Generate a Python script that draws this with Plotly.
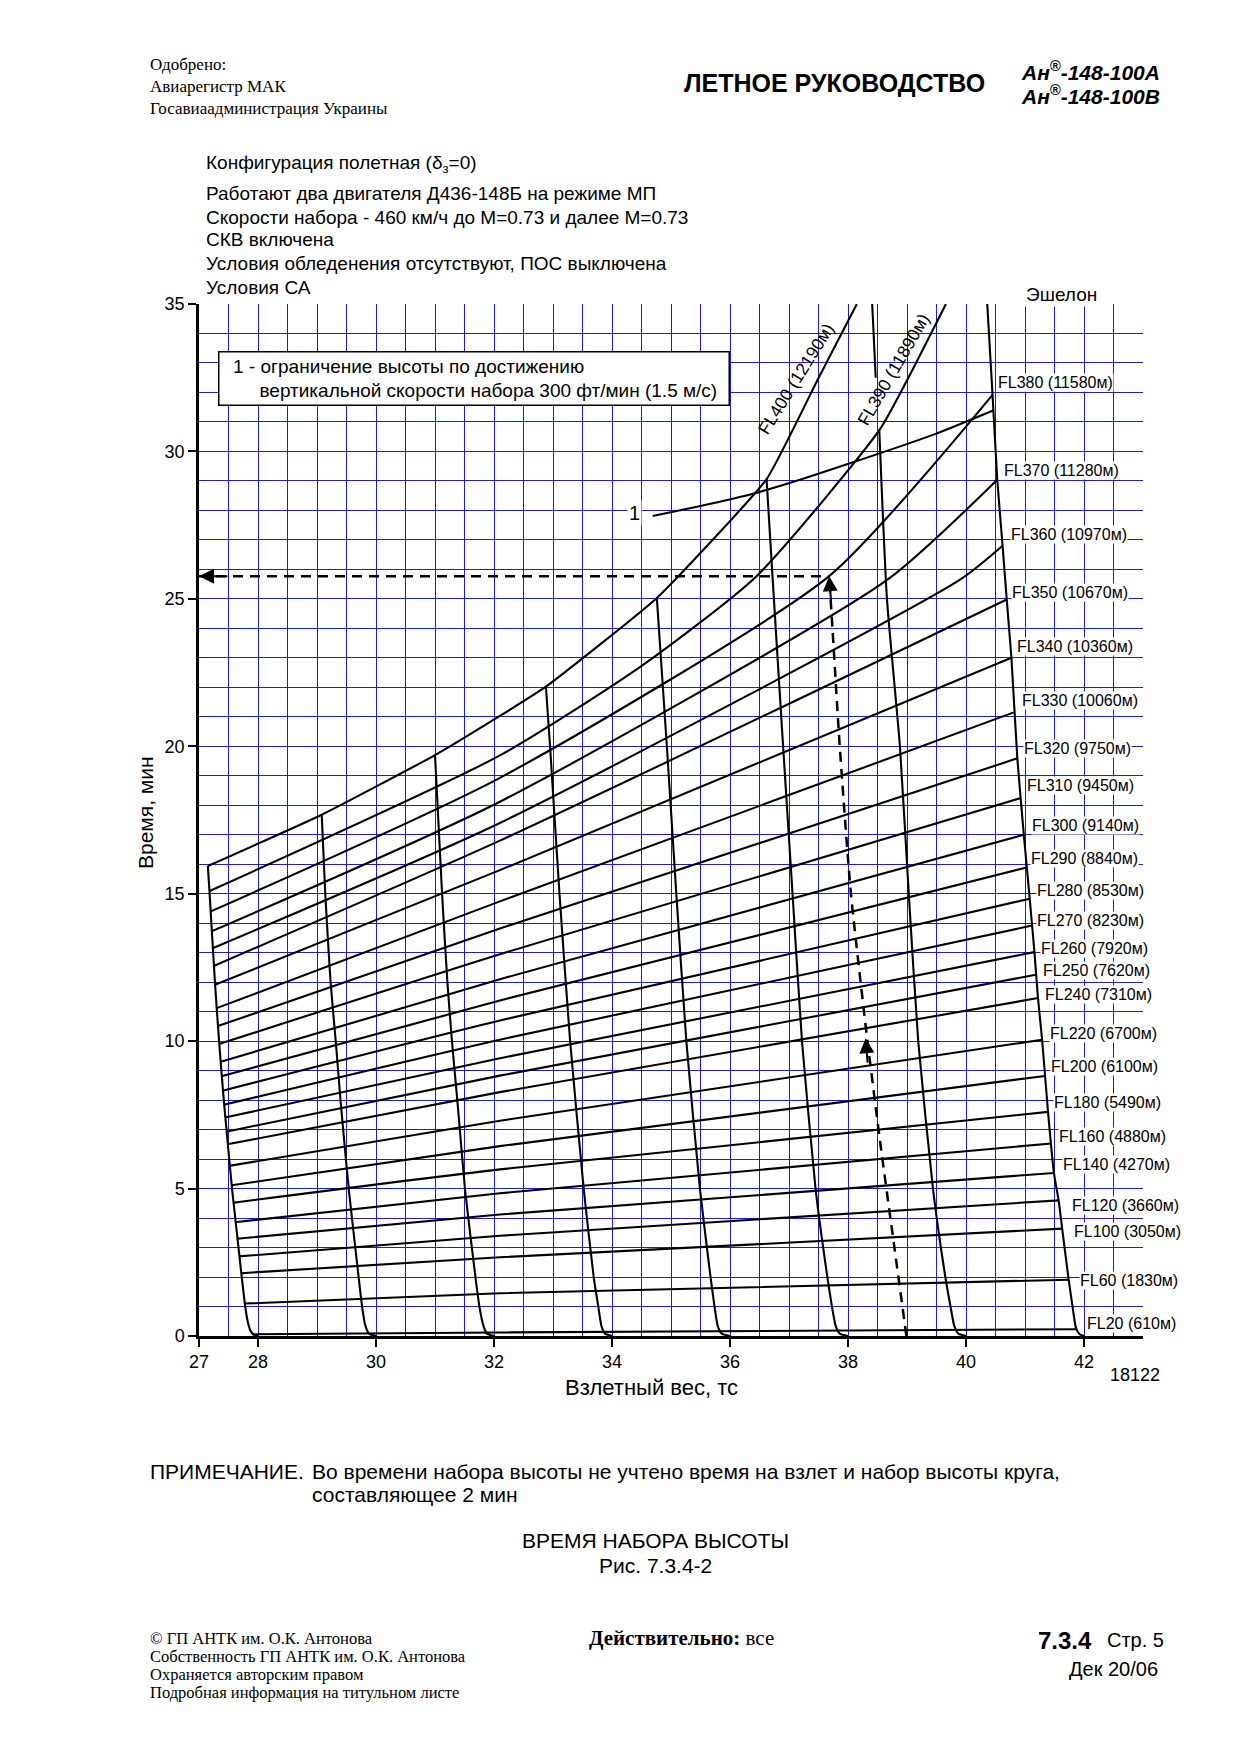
import plotly.graph_objects as go

# ---------------- DATA ----------------
# Flight levels ending on the right boundary (G7)
fl_labels = ["FL20 (610м)", "FL60 (1830м)", "FL100 (3050м)", "FL120 (3660м)", "FL140 (4270м)",
             "FL160 (4880м)", "FL180 (5490м)", "FL200 (6100м)", "FL220 (6700м)", "FL240 (7310м)",
             "FL250 (7620м)", "FL260 (7920м)", "FL270 (8230м)", "FL280 (8530м)", "FL290 (8840м)",
             "FL300 (9140м)", "FL310 (9450м)", "FL320 (9750м)", "FL330 (10060м)", "FL340 (10360м)",
             "FL350 (10670м)", "FL360 (10970м)", "FL370 (11280м)", "FL380 (11580м)"]
# left end (weight, time)
fl_left_w = [27.90, 27.77, 27.71, 27.68, 27.64, 27.61, 27.58, 27.55, 27.51, 27.48, 27.46, 27.44,
             27.42, 27.40, 27.38, 27.37, 27.34, 27.32, 27.30, 27.27, 27.25, 27.24, 27.22, 27.20]
fl_left_t = [0.06, 1.10, 2.13, 2.70, 3.30, 3.86, 4.52, 5.11, 5.77, 6.50, 6.93, 7.41,
             7.84, 8.32, 8.81, 9.30, 9.90, 10.51, 11.12, 11.91, 12.55, 13.16, 13.73, 14.40]
# time at weight 32.1 t
fl_mid_w = 32.1
fl_mid_t = [0.12, 1.45, 2.67, 3.40, 4.12, 4.84, 5.65, 6.44, 7.30, 8.27, 8.83, 9.42,
            10.05, 10.70, 11.38, 12.10, 12.95, 13.82, 14.74, 15.80, 16.80, 17.40, 18.12, 18.93]
# right end (on boundary line)
fl_right_w = [41.87, 41.74, 41.63, 41.57, 41.49, 41.45, 41.39, 41.34, 41.29, 41.22, 41.18, 41.16,
              41.12, 41.08, 41.03, 40.98, 40.92, 40.87, 40.81, 40.77, 40.69, 40.62, 40.53, 40.45]
fl_right_t = [0.23, 1.91, 3.64, 4.60, 5.53, 6.53, 7.60, 8.82, 10.05, 11.46, 12.25, 13.02,
              13.92, 14.83, 15.89, 17.00, 18.24, 19.59, 21.15, 23.00, 24.98, 26.80, 29.04, 31.92]
# extra interior points of the upper levels
fl360_extra_w, fl360_extra_t = [39.90], [25.65]
fl370_extra_w, fl370_extra_t = [38.67], [25.65]
fl380_extra_w, fl380_extra_t = [37.68], [25.77]

fl390_w = [27.18, 32.10, 34.49, 36.45, 38.53, 39.01, 39.66]
fl390_t = [15.09, 19.69, 22.71, 25.77, 30.72, 32.45, 35.00]
fl400_w = [27.15, 29.08, 31.00, 32.10, 32.88, 34.76, 36.62, 37.49, 38.15]
fl400_t = [15.94, 17.68, 19.70, 21.03, 22.02, 25.03, 29.06, 32.45, 35.00]

# guide lines (weight at time), ending at even take-off weights
g0_w = [27.15, 27.18, 27.27, 27.34, 27.42, 27.56, 27.62, 27.73, 27.79, 27.83, 27.88, 27.94, 28.00]
g0_t = [15.94, 15.00, 12.00, 10.00, 8.00, 5.00, 3.90, 1.90, 0.90, 0.45, 0.15, 0.03, 0.00]
g1_w = [29.08, 29.14, 29.23, 29.32, 29.40, 29.54, 29.71, 29.77, 29.82, 29.88, 30.00]
g1_t = [17.68, 15.00, 12.00, 9.94, 7.96, 4.95, 1.92, 0.91, 0.35, 0.08, 0.00]
g2_w = [31.00, 31.12, 31.21, 31.29, 31.38, 31.51, 31.69, 31.76, 31.82, 31.88, 32.00]
g2_t = [19.70, 15.00, 12.00, 9.94, 7.96, 4.95, 1.92, 0.91, 0.35, 0.08, 0.00]
g3_w = [32.88, 32.95, 33.11, 33.29, 33.52, 33.69, 33.77, 33.82, 33.88, 34.00]
g3_t = [22.02, 20.00, 15.00, 10.00, 5.00, 2.00, 0.97, 0.35, 0.08, 0.00]
g4_w = [34.76, 34.93, 35.09, 35.26, 35.49, 35.67, 35.74, 35.79, 35.86, 36.00]
g4_t = [25.03, 20.00, 15.00, 10.00, 5.00, 2.00, 0.97, 0.35, 0.08, 0.00]
g5_w = [36.62, 36.72, 36.90, 37.06, 37.22, 37.45, 37.65, 37.73, 37.79, 37.86, 38.00]
g5_t = [29.06, 25.77, 20.00, 15.00, 10.00, 5.00, 2.00, 0.97, 0.35, 0.08, 0.00]
g6_w = [38.53, 38.66, 38.88, 39.03, 39.19, 39.44, 39.65, 39.74, 39.80, 39.87, 40.00]
g6_t = [30.72, 25.00, 20.00, 15.00, 10.00, 5.00, 2.00, 0.97, 0.35, 0.08, 0.00]
g6_top_w = [38.41, 38.47]
g6_top_t = [35.00, 32.50]
g7_w = [40.36, 40.45, 40.53, 40.62, 40.69, 40.77, 40.87, 40.98, 41.08, 41.16, 41.22, 41.29,
        41.39, 41.49, 41.57, 41.63, 41.74, 41.82, 41.86, 41.92, 42.00]
g7_t = [35.00, 31.92, 29.04, 26.80, 24.98, 23.00, 19.59, 17.00, 14.83, 13.02, 11.46, 10.05,
        7.60, 5.53, 4.60, 3.64, 1.91, 0.80, 0.30, 0.07, 0.00]

# limit curve "1" (300 ft/min)
lim_w = [34.69, 35.50, 36.36, 37.20, 38.16, 39.45, 40.46]
lim_t = [27.81, 28.15, 28.55, 29.05, 29.68, 30.57, 31.39]

# worked example (dashed)
ex_w = [38.99, 38.78, 38.55, 38.33, 38.05, 37.86, 37.74, 37.68]
ex_t = [0.00, 3.10, 6.50, 10.00, 15.00, 20.00, 23.90, 25.77]
ex_time = 25.77
ex_mid_w, ex_mid_t = 38.30, 10.10

x_ticks = [27, 28, 30, 32, 34, 36, 38, 40, 42]
y_ticks = [0, 5, 10, 15, 20, 25, 30, 35]

# ---------------- LAYOUT CONSTANTS ----------------
W, H = 1240, 1755
PL, PR, PT, PB = 199, 1143, 304, 1336
SANS = "Liberation Sans, Arial, sans-serif"
SERIF = "Liberation Serif, Times New Roman, serif"
BLUE = "rgb(28,28,210)"

# FL label anchor (left edge, centre) positions
fl_lab_x = [42.03, 41.92, 41.82, 41.78, 41.63, 41.56, 41.48, 41.43, 41.40, 41.33, 41.29, 41.25,
            41.18, 41.18, 41.09, 41.10, 41.01, 40.97, 40.94, 40.85, 40.77, 40.75, 40.63, 40.52]
fl_lab_y = [0.44, 1.89, 3.56, 4.43, 5.83, 6.78, 7.92, 9.13, 10.26, 11.58, 12.40, 13.15,
            14.09, 15.10, 16.20, 17.31, 18.66, 19.94, 21.56, 23.38, 25.21, 27.18, 29.36, 32.35]


def px(x, y, xa="left", ya="middle"):
    return dict(x=(x - PL) / (PR - PL), y=(PB - y) / (PB - PT), xref="paper", yref="paper",
                xanchor=xa, yanchor=ya)


fig = go.Figure()

LINE = dict(color="black", width=2.1)


def add_line(xs, ys, shape="spline", smooth=0.6, line=LINE):
    fig.add_trace(go.Scatter(x=xs, y=ys, mode="lines", line=dict(shape=shape, smoothing=smooth, **line),
                             hoverinfo="skip", showlegend=False))


extras = {21: (fl360_extra_w, fl360_extra_t), 22: (fl370_extra_w, fl370_extra_t),
          23: (fl380_extra_w, fl380_extra_t)}
for i in range(len(fl_labels)):
    xs = [fl_left_w[i], fl_mid_w]
    ys = [fl_left_t[i], fl_mid_t[i]]
    if i in extras:
        xs += extras[i][0]
        ys += extras[i][1]
    xs.append(fl_right_w[i])
    ys.append(fl_right_t[i])
    add_line(xs, ys)

add_line(fl390_w, fl390_t)
add_line(fl400_w, fl400_t, smooth=0.4)

for gw, gt in [(g0_w, g0_t), (g1_w, g1_t), (g2_w, g2_t), (g3_w, g3_t), (g4_w, g4_t),
               (g5_w, g5_t), (g6_w, g6_t), (g6_top_w, g6_top_t), (g7_w, g7_t)]:
    add_line(gw, gt, smooth=0.5)

add_line(lim_w, lim_t)

DASH = dict(color="black", width=2.5, dash="10px,7px")
add_line(ex_w, ex_t, line=DASH)
add_line([27.0, ex_w[-1]], [ex_time, ex_time], shape="linear", line=DASH)

# arrow heads of the example
for (ax_, ay_, tx, ty) in [(30, 0, 27.0, ex_time), (2, 26, ex_w[-1], ex_time), (2, 26, ex_mid_w, ex_mid_t)]:
    fig.add_annotation(x=tx, y=ty, ax=ax_, ay=ay_, axref="pixel", ayref="pixel", text="",
                       showarrow=True, arrowhead=2, arrowsize=1.5, arrowwidth=2, arrowcolor="black",
                       standoff=0, startstandoff=0)

# FL labels
for lab, lx, ly in zip(fl_labels, fl_lab_x, fl_lab_y):
    fig.add_annotation(x=lx, y=ly, text=lab, showarrow=False, xanchor="left", yanchor="middle",
                       bgcolor="white", borderpad=0, font=dict(family=SANS, size=16, color="black"))

fig.add_annotation(x=37.12, y=32.45, text="FL400 (12190м)", showarrow=False, textangle=-58,
                   xanchor="center", yanchor="middle",
                   font=dict(family=SANS, size=17.5, color="black"))
fig.add_annotation(x=38.78, y=32.78, text="FL390 (11890м)", showarrow=False, textangle=-60,
                   xanchor="center", yanchor="middle",
                   font=dict(family=SANS, size=17.5, color="black"))
fig.add_annotation(x=34.38, y=27.9, text="1", showarrow=False, bgcolor="white", borderpad=1,
                   xanchor="center", yanchor="middle",
                   font=dict(family=SANS, size=20, color="black"))

# legend box
fig.add_annotation(**px(218, 351, "left", "top"),
                   text="\u00a0\u00a01 - ограничение высоты по достижению<br>"
                   "\u00a0\u00a0\u00a0\u00a0\u00a0\u00a0\u00a0вертикальной скорости набора 300 фт/мин (1.5 м/с)",
                   showarrow=False, align="left", width=503,
                   bgcolor="white", bordercolor="black", borderwidth=1.5, borderpad=3,
                   font=dict(family=SANS, size=19, color="black"))

fig.add_annotation(**px(1061, 294, "center"), text="Эшелон", showarrow=False, bgcolor="white", borderpad=1,
                   font=dict(family=SANS, size=19, color="black"))
fig.add_annotation(**px(1135, 1375, "center"), text="18122", showarrow=False,
                   font=dict(family=SANS, size=18, color="black"))
fig.add_annotation(**px(651, 1387, "center"), text="Взлетный вес, тс", showarrow=False,
                   font=dict(family=SANS, size=22, color="black"))
fig.add_annotation(**px(145, 813, "center"), text="Время, мин", showarrow=False, textangle=-90,
                   font=dict(family=SANS, size=21, color="black"))

# page header
for t, yy in [("Одобрено:", 64), ("Авиарегистр МАК", 86), ("Госавиаадминистрация Украины", 108)]:
    fig.add_annotation(**px(148, yy), text=t, showarrow=False,
                       font=dict(family=SERIF, size=17, color="black"))
fig.add_annotation(**px(834, 83, "center"), text="<b>ЛЕТНОЕ РУКОВОДСТВО</b>", showarrow=False,
                   font=dict(family=SANS, size=25, color="black"))
for t, yy in [("Ан<sup>®</sup>-148-100А", 71), ("Ан<sup>®</sup>-148-100В", 95)]:
    fig.add_annotation(**px(1019, yy), text="<b><i>" + t + "</i></b>", showarrow=False,
                       font=dict(family=SANS, size=21, color="black"))

notes = ["Конфигурация полетная (δ<sub>з</sub>=0)",
         "Работают два двигателя Д436-148Б на режиме МП",
         "Скорости набора - 460 км/ч до М=0.73 и далее М=0.73",
         "СКВ включена",
         "Условия обледенения отсутствуют, ПОС выключена",
         "Условия СА"]
for t, yy in zip(notes, [164, 193, 217, 240, 264, 287]):
    fig.add_annotation(**px(204, yy), text=t, showarrow=False,
                       font=dict(family=SANS, size=19, color="black"))

# bottom texts
fig.add_annotation(**px(148, 1471), text="ПРИМЕЧАНИЕ.", showarrow=False,
                   font=dict(family=SANS, size=21, color="black"))
fig.add_annotation(**px(310, 1471), text="Во времени набора высоты не учтено время на взлет и набор высоты круга,",
                   showarrow=False, font=dict(family=SANS, size=21, color="black"))
fig.add_annotation(**px(310, 1494), text="составляющее 2 мин", showarrow=False,
                   font=dict(family=SANS, size=21, color="black"))
fig.add_annotation(**px(655, 1540, "center"), text="ВРЕМЯ НАБОРА ВЫСОТЫ", showarrow=False,
                   font=dict(family=SANS, size=21, color="black"))
fig.add_annotation(**px(655, 1565, "center"), text="Рис. 7.3.4-2", showarrow=False,
                   font=dict(family=SANS, size=21, color="black"))

for t, yy in [("© ГП АНТК им. О.К. Антонова", 1638), ("Собственность ГП АНТК им. О.К. Антонова", 1656),
              ("Охраняется авторским правом", 1674), ("Подробная информация на титульном листе", 1692)]:
    fig.add_annotation(**px(148, yy), text=t, showarrow=False,
                       font=dict(family=SERIF, size=16.5, color="black"))
fig.add_annotation(**px(587, 1638), text="<b>Действительно:</b> все", showarrow=False,
                   font=dict(family=SERIF, size=21, color="black"))
fig.add_annotation(**px(1094, 1640, "right"), text="<b>7.3.4</b>", showarrow=False,
                   font=dict(family=SANS, size=24, color="black"))
fig.add_annotation(**px(1166, 1640, "right"), text="Стр. 5", showarrow=False,
                   font=dict(family=SANS, size=20, color="black"))
fig.add_annotation(**px(1160, 1669, "right"), text="Дек 20/06", showarrow=False,
                   font=dict(family=SANS, size=20, color="black"))

fig.update_layout(
    width=W, height=H, autosize=False,
    margin=dict(l=PL, r=W - PR, t=PT, b=H - PB, pad=0),
    paper_bgcolor="white", plot_bgcolor="white",
    xaxis=dict(range=[27, 43], tickvals=x_ticks, ticktext=[str(v) for v in x_ticks],
               showgrid=True, gridcolor=BLUE, gridwidth=1.2, zeroline=False,
               showline=True, linecolor="black", linewidth=2.5,
               ticks="outside", ticklen=8, tickwidth=2, tickcolor="black",
               tickfont=dict(family=SANS, size=18, color="black"),
               minor=dict(dtick=0.5, tick0=27, showgrid=True, gridcolor=BLUE, gridwidth=1.2, ticks=""),
               fixedrange=True),
    yaxis=dict(range=[0, 35], tickvals=y_ticks, showgrid=True, gridcolor=BLUE, gridwidth=1.2,
               zeroline=False, showline=True, linecolor="black", linewidth=2.5,
               ticks="outside", ticklen=8, tickwidth=2, tickcolor="black",
               tickfont=dict(family=SANS, size=18, color="black"),
               minor=dict(dtick=1, tick0=0, showgrid=True, gridcolor=BLUE, gridwidth=1.2, ticks=""),
               fixedrange=True),
)

fig.write_html("out.html", config={"displayModeBar": False},
               post_script="document.body.style.margin='0px';")
